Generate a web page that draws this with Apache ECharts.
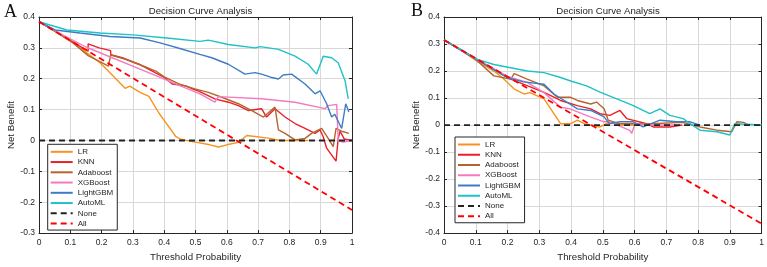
<!DOCTYPE html>
<html>
<head>
<meta charset="utf-8">
<script src="https://cdn.jsdelivr.net/npm/echarts@6/dist/echarts.min.js"></script>
<style>
  body { margin: 0; background: #fff; }
  #main { width: 767px; height: 267px; }
</style>
</head>
<body>
<div id="main"></div>
<script>
// model names, legend order
var names = ['LR', 'KNN', 'Adaboost', 'XGBoost', 'LightGBM', 'AutoML', 'None', 'All'];
var colors = ['#f7931e', '#e8202a', '#b5652b', '#f47ac0', '#3d7cc4', '#1fc1c8', '#222222', '#ff0000'];

// panel A curves: [threshold, net benefit]
var A_LR = [[0,0.385],[0.05,0.355],[0.1,0.323],[0.142,0.292],[0.195,0.252],[0.237,0.209],[0.275,0.169],[0.29,0.176],[0.323,0.156],[0.351,0.143],[0.383,0.089],[0.4,0.065],[0.437,0.013],[0.452,0.004],[0.482,-0.002],[0.504,-0.006],[0.546,-0.014],[0.573,-0.021],[0.6,-0.014],[0.637,-0.006],[0.664,0.016],[0.738,0.007],[0.77,0.0],[0.86,0.0]];
var A_KNN = [[0,0.385],[0.05,0.355],[0.1,0.324],[0.157,0.289],[0.157,0.313],[0.192,0.3],[0.229,0.291],[0.229,0.278],[0.266,0.268],[0.319,0.247],[0.362,0.225],[0.4,0.204],[0.426,0.183],[0.469,0.177],[0.49,0.167],[0.51,0.16],[0.562,0.135],[0.605,0.124],[0.637,0.113],[0.669,0.097],[0.711,0.103],[0.727,0.076],[0.754,0.103],[0.786,0.076],[0.818,0.055],[0.85,0.039],[0.882,0.023],[0.898,0.034],[0.908,0.012],[0.919,-0.025],[0.949,-0.067],[0.956,0.007],[0.962,0.03],[0.975,0.005],[1,0.0]];
var A_Ada = [[0,0.385],[0.05,0.354],[0.106,0.318],[0.157,0.275],[0.222,0.241],[0.229,0.277],[0.277,0.263],[0.319,0.247],[0.373,0.225],[0.4,0.206],[0.447,0.183],[0.498,0.167],[0.541,0.156],[0.584,0.14],[0.637,0.119],[0.68,0.097],[0.717,0.076],[0.754,0.108],[0.765,0.034],[0.786,0.023],[0.818,0.002],[0.85,0.007],[0.871,0.023],[0.903,0.039],[0.924,0.007],[0.94,-0.02],[0.949,0.039],[0.97,0.029],[0.99,0.023]];
var A_XGB = [[0,0.385],[0.08,0.34],[0.152,0.302],[0.35,0.22],[0.45,0.178],[0.514,0.151],[0.562,0.124],[0.573,0.142],[0.711,0.135],[0.818,0.124],[0.914,0.103],[0.924,0.113],[0.951,0.117],[0.956,0.0],[0.97,-0.005],[1,0.0]];
var A_LGBM = [[0,0.385],[0.051,0.358],[0.131,0.348],[0.227,0.337],[0.323,0.332],[0.387,0.316],[0.45,0.298],[0.514,0.279],[0.552,0.268],[0.605,0.247],[0.658,0.215],[0.69,0.22],[0.711,0.215],[0.74,0.205],[0.765,0.199],[0.78,0.212],[0.807,0.215],[0.85,0.183],[0.882,0.151],[0.898,0.161],[0.919,0.119],[0.935,0.076],[0.945,0.085],[0.967,0.039],[0.98,0.119],[0.99,0.092]];
var A_AutoML = [[0,0.385],[0.035,0.374],[0.089,0.358],[0.195,0.348],[0.3,0.342],[0.408,0.332],[0.514,0.321],[0.541,0.325],[0.605,0.311],[0.69,0.3],[0.707,0.304],[0.765,0.295],[0.818,0.273],[0.86,0.247],[0.887,0.215],[0.908,0.273],[0.935,0.268],[0.956,0.252],[0.978,0.193],[0.988,0.135]];
var A_None = [[0,0],[1,0]];
var A_All = [[0,0.385],[1,-0.225]];

// panel B curves
var B_LR = [[0,0.315],[0.05,0.28],[0.105,0.236],[0.157,0.2],[0.189,0.17],[0.221,0.133],[0.252,0.115],[0.27,0.12],[0.315,0.097],[0.346,0.042],[0.367,0.005],[0.399,0.005],[0.42,0.018],[0.441,0.005],[0.491,-0.007],[0.512,0.005],[0.533,0.012],[0.554,0.0],[0.6,0.0]];
var B_KNN = [[0,0.315],[0.1,0.245],[0.21,0.17],[0.315,0.121],[0.367,0.091],[0.42,0.072],[0.462,0.06],[0.491,0.042],[0.522,0.036],[0.554,0.054],[0.575,0.024],[0.638,0.005],[0.659,-0.007],[0.711,-0.007],[0.75,0.0]];
var B_Ada = [[0,0.315],[0.1,0.243],[0.157,0.182],[0.21,0.17],[0.221,0.19],[0.262,0.17],[0.315,0.145],[0.357,0.103],[0.397,0.103],[0.42,0.091],[0.462,0.078],[0.48,0.085],[0.504,0.06],[0.517,0.018],[0.55,0.005],[0.65,0.005],[0.75,0.01],[0.806,-0.007],[0.859,-0.019],[0.906,-0.025],[0.922,0.012],[0.943,0.01],[0.96,0.0]];
var B_XGB = [[0,0.315],[0.1,0.245],[0.2,0.18],[0.262,0.158],[0.315,0.12],[0.367,0.066],[0.397,0.06],[0.46,0.03],[0.504,0.012],[0.522,0.012],[0.585,-0.02],[0.591,-0.031],[0.601,0.005],[0.65,0.0],[0.732,0.0]];
var B_LGBM = [[0,0.315],[0.1,0.245],[0.2,0.175],[0.25,0.16],[0.315,0.151],[0.346,0.115],[0.38,0.09],[0.42,0.06],[0.462,0.054],[0.504,0.03],[0.52,0.005],[0.554,0.012],[0.596,0.012],[0.627,-0.007],[0.68,0.018],[0.732,0.012],[0.775,0.012],[0.806,0.0]];
var B_AutoML = [[0,0.316],[0.063,0.273],[0.105,0.243],[0.157,0.224],[0.21,0.212],[0.262,0.2],[0.315,0.194],[0.367,0.176],[0.399,0.163],[0.449,0.145],[0.493,0.121],[0.544,0.097],[0.596,0.072],[0.648,0.042],[0.68,0.06],[0.711,0.036],[0.753,0.024],[0.775,0.005],[0.806,-0.019],[0.859,-0.025],[0.9,-0.037],[0.915,0.005],[1,0.0]];
var B_None = [[0,0],[1,0]];
var B_All = [[0,0.315],[1,-0.365]];

// tick ranges
var xTicks = [0, 1, 0.1];
var yTicksA = [-0.3, 0.4, 0.1];
var yTicksB = [-0.4, 0.4, 0.1];

var font = 'Liberation Sans, Arial, sans-serif';
var ink = '#262626';

function xAxis(grid, top) {
  return {
    type: 'value', gridIndex: grid, position: top ? 'top' : 'bottom',
    min: xTicks[0], max: xTicks[1], interval: xTicks[2],
    name: top ? '' : 'Threshold Probability', nameLocation: 'middle', nameGap: 16,
    nameTextStyle: { fontSize: 9.7, color: ink, fontFamily: font },
    axisLine: { show: true, onZero: false, lineStyle: { color: ink, width: 1 } },
    axisTick: { show: true, inside: true, length: 3, lineStyle: { color: ink } },
    axisLabel: { show: !top, fontSize: 8.5, color: ink, fontFamily: font, margin: 5 },
    splitLine: { show: !top, lineStyle: { color: '#d8d8d8', width: 1 } }
  };
}

function yAxis(grid, ticks, right) {
  return {
    type: 'value', gridIndex: grid, position: right ? 'right' : 'left',
    min: ticks[0], max: ticks[1], interval: ticks[2],
    name: right ? '' : 'Net Benefit', nameLocation: 'middle', nameGap: 22,
    nameTextStyle: { fontSize: 9.7, color: ink, fontFamily: font },
    axisLine: { show: true, onZero: false, lineStyle: { color: ink, width: 1 } },
    axisTick: { show: true, inside: true, length: 3, lineStyle: { color: ink } },
    axisLabel: { show: !right, fontSize: 8.5, color: ink, fontFamily: font, margin: 4 },
    splitLine: { show: !right, lineStyle: { color: '#d8d8d8', width: 1 } }
  };
}

function line(i, data, axis) {
  var dashed = i >= 6;
  return {
    name: names[i], type: 'line', data: data,
    xAxisIndex: axis, yAxisIndex: axis,
    showSymbol: false, symbol: 'none', z: dashed ? 3 : 2,
    lineStyle: { color: colors[i], width: dashed ? 1.8 : 1.4, type: dashed ? [6, 4] : 'solid' },
    itemStyle: { color: colors[i] },
    animation: false
  };
}

function legend(left, top) {
  return {
    data: names, orient: 'vertical', left: left, top: top,
    itemWidth: 22, itemHeight: 10, itemGap: 0.25,
    padding: [2.5, 4, 1.5, 2],
    borderColor: ink, borderWidth: 1, backgroundColor: '#fff',
    itemStyle: { opacity: 0 },
    textStyle: { fontSize: 8, color: ink, fontFamily: font, lineHeight: 10 },
    selectedMode: false
  };
}

var dataA = [A_LR, A_KNN, A_Ada, A_XGB, A_LGBM, A_AutoML, A_None, A_All];
var dataB = [B_LR, B_KNN, B_Ada, B_XGB, B_LGBM, B_AutoML, B_None, B_All];
var series = [];
dataA.forEach(function (d, i) { series.push(line(i, d, 0)); });
dataB.forEach(function (d, i) { series.push(line(i, d, 2)); });

var myChart = echarts.init(document.getElementById('main'));
myChart.setOption({
  backgroundColor: '#fff',
  animation: false,
  title: [
    { text: 'Decision Curve Analysis', left: 195.5, top: 1, textAlign: 'center',
      textStyle: { fontSize: 9.6, fontWeight: 'normal', color: ink, fontFamily: font } },
    { text: 'Decision Curve Analysis', left: 603, top: 1, textAlign: 'center',
      textStyle: { fontSize: 9.6, fontWeight: 'normal', color: ink, fontFamily: font } }
  ],
  grid: [
    { left: 39, top: 17, width: 313, height: 219 },
    { left: 444, top: 17, width: 318, height: 219 }
  ],
  xAxis: [xAxis(0, false), xAxis(0, true), xAxis(1, false), xAxis(1, true)],
  yAxis: [yAxis(0, yTicksA, false), yAxis(0, yTicksA, true), yAxis(1, yTicksB, false), yAxis(1, yTicksB, true)],
  legend: [legend(47.7, 144.3), legend(455, 137)],
  graphic: [
    { type: 'text', left: 4, top: 3, style: { text: 'A', font: '18px Liberation Serif, Times New Roman, serif', fill: '#111' } },
    { type: 'text', left: 411, top: 2, style: { text: 'B', font: '18px Liberation Serif, Times New Roman, serif', fill: '#111' } }
  ],
  series: series
});
</script>
</body>
</html>
